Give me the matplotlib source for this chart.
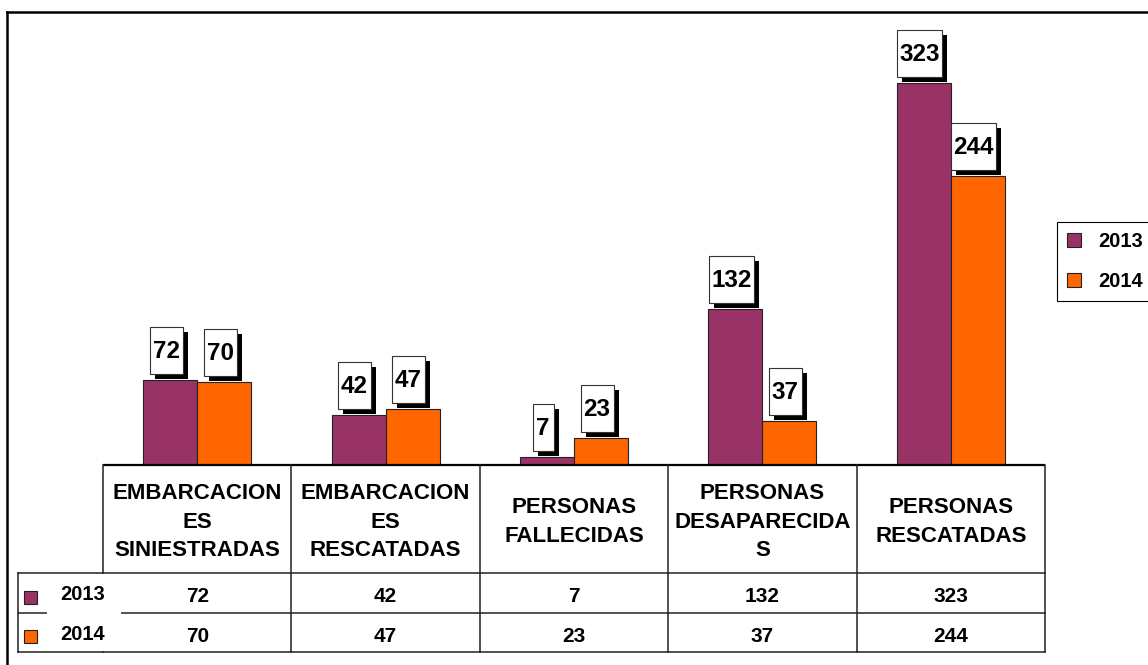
import matplotlib
matplotlib.use('Agg')
import matplotlib.pyplot as plt
from matplotlib.patches import Rectangle
import numpy as np

categories = ["EMBARCACION\nES\nSINIESTRADAS", "EMBARCACION\nES\nRESCATADAS",
              "PERSONAS\nFALLECIDAS", "PERSONAS\nDESAPARECIDA\nS", "PERSONAS\nRESCATADAS"]
series_names = ["2013", "2014"]
values_2013 = [72, 42, 7, 132, 323]
values_2014 = [70, 47, 23, 37, 244]
colors = ["#993366", "#FF6600"]

plt.rcParams['font.family'] = ['Liberation Sans', 'DejaVu Sans']

W, H = 1148, 665
fig = plt.figure(figsize=(W / 100, H / 100), dpi=100)


def fr(x0, y0, x1, y1):
    return [x0 / W, 1 - y1 / H, (x1 - x0) / W, (y1 - y0) / H]


L, R = 18, 1045
C0 = 103
colw = (R - C0) / 5
xmin = -0.5 - (C0 - L) / colw
xmax = 4.5
base_y = 465
top_y = 20
ppu = 382 / 323
ymax = (base_y - top_y) / ppu

ax = fig.add_axes(fr(L, top_y, R, base_y))
ax.set_xlim(xmin, xmax)
ax.set_ylim(0, ymax)
ax.axis('off')
x = np.arange(len(categories))
bw = 54 / colw
b1 = ax.bar(x - bw / 2, values_2013, bw, color=colors[0], edgecolor='#222222', linewidth=0.8, label=series_names[0])
b2 = ax.bar(x + bw / 2, values_2014, bw, color=colors[1], edgecolor='#222222', linewidth=0.8, label=series_names[1])
ax.hlines(0, -0.5, 4.5, color='black', lw=1.6, clip_on=False, zorder=4)

pix = fig.add_axes([0, 0, 1, 1])
pix.set_xlim(0, W)
pix.set_ylim(H, 0)
pix.axis('off')
pix.set_zorder(5)
pix.patch.set_alpha(0)


def to_pix(a, xv, yv):
    dx, dy = a.transData.transform((xv, yv))
    return dx, H - dy


# value label boxes with shadow
for bars, vals in ((b1, values_2013), (b2, values_2014)):
    for rect, v in zip(bars, vals):
        cx = rect.get_x() + rect.get_width() / 2
        px, py = to_pix(ax, cx, rect.get_height())
        n = len(str(v))
        w = 9 + 12 * n
        h = 47
        bx = px - 4 - w / 2
        btop = py - 6 - h
        pix.add_patch(Rectangle((bx + 5, btop + 5), w, h, facecolor='black', edgecolor='none', zorder=6))
        pix.add_patch(Rectangle((bx, btop), w, h, facecolor='white', edgecolor='#333333', lw=0.8, zorder=7))
        pix.text(bx + w / 2, btop + h / 2 + 1, str(v), ha='center', va='center', fontsize=17.5,
                 fontweight='bold', zorder=8)

# data table
bounds = [to_pix(ax, -0.5 + i, 0)[0] for i in range(len(categories) + 1)]
centers = [to_pix(ax, i, 0)[0] for i in range(len(categories))]
lc = '#222222'
lw = 1.1
row_top, row1, row2, row_bot = 465, 573, 613, 652
for xb in bounds:
    pix.plot([xb, xb], [row_top, row_bot], color=lc, lw=lw, zorder=3)
for yb in (row1, row2, row_bot):
    pix.plot([L, bounds[-1]], [yb, yb], color=lc, lw=lw, zorder=3)
pix.plot([L, L], [row1, row_bot], color=lc, lw=lw, zorder=3)
pix.add_patch(Rectangle((47, row1 + 1), 74, row_bot - row1 - 2, facecolor='white', edgecolor='none', zorder=4))

for cxp, cat in zip(centers, categories):
    pix.text(cxp, 522, cat, ha='center', va='center', fontsize=16, fontweight='bold',
             linespacing=1.47, zorder=5)

row_y = [597, 636]
for ry, name, vals, col in zip(row_y, series_names, (values_2013, values_2014), colors):
    pix.add_patch(Rectangle((24, ry - 6), 13, 13, facecolor=col, edgecolor='#222222', lw=0.8, zorder=5))
    pix.text(83, ry - 2, name, ha='center', va='center', fontsize=14.5, fontweight='bold', zorder=5)
    for cxp, v in zip(centers, vals):
        pix.text(cxp, ry, str(v), ha='center', va='center', fontsize=15, fontweight='bold', zorder=5)

# outer frame (top and left)
pix.plot([7, 7], [12, H + 2], color='black', lw=1.8, solid_capstyle='projecting')
pix.plot([7, W + 2], [12, 12], color='black', lw=1.8, solid_capstyle='projecting')

leg = fig.legend(handles=[b1, b2], labels=series_names, loc='upper left',
                 bbox_to_anchor=(1062 / W, 1 - 222 / H), frameon=True, fancybox=False,
                 edgecolor='black', framealpha=1, prop={'weight': 'bold', 'size': 14.5},
                 handlelength=0.7, handleheight=0.7, handletextpad=0.85, labelspacing=1.05,
                 borderpad=0.5, borderaxespad=0)
leg._legend_box.align = 'left'
leg.get_frame().set_linewidth(0.8)
# tighten horizontal padding so labels sit like the reference
leg.borderpad = 0.5
for t in leg.get_texts():
    t.set_x(0)

fig.canvas.draw()
bb = leg.get_window_extent()
# shift legend so the colour keys start near the reference position
leg.set_bbox_to_anchor((1057 / W, 1 - 222 / H), transform=fig.transFigure)

fig.savefig('out.png', dpi=100)
